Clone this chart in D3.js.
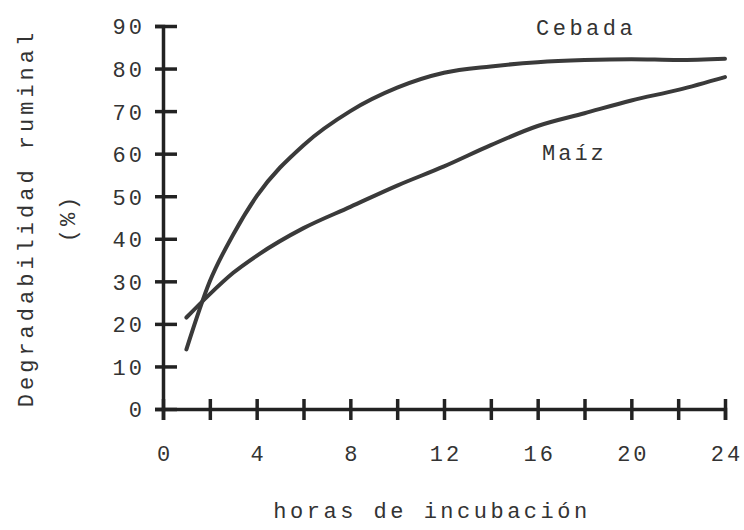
<!DOCTYPE html>
<html>
<head>
<meta charset="utf-8">
<script src="https://cdn.jsdelivr.net/npm/d3@7"></script>
<style>
  body { margin: 0; background: #fff; }
  text { font-family: "Liberation Mono", "DejaVu Sans Mono", monospace; fill: #333; }
</style>
</head>
<body>
<div id="chart"></div>
<script>
// data
const hours = [1, 2, 3, 4, 6, 8, 10, 12, 14, 16, 18, 20, 22, 24];
const cebada = [14, 30, 41, 50, 62, 70, 75.5, 79, 80.5, 81.5, 82, 82.2, 82, 82.3];
const maiz = [21.5, 27, 32, 36, 42.5, 47.5, 52.5, 57, 62, 66.5, 69.5, 72.5, 75, 78];
const xTicks = [0, 2, 4, 6, 8, 10, 12, 14, 16, 18, 20, 22, 24];
const yTicks = [0, 10, 20, 30, 40, 50, 60, 70, 80, 90];

const width = 744, height = 530;

const svg = d3.select("#chart").append("svg")
  .attr("width", width)
  .attr("height", height);

const x = d3.scaleLinear().domain([0, 24]).range([163, 725]);
const y = d3.scaleLinear().domain([0, 90]).range([409, 26]);

// y axis
const gy = svg.append("g")
  .attr("transform", `translate(${x(0)},0)`)
  .call(d3.axisLeft(y).tickValues(yTicks).tickSizeOuter(0).tickSize(8).tickPadding(12));
gy.selectAll(".tick line").attr("x1", 14);
gy.selectAll(".tick text")
  .style("font-size", "22px").style("letter-spacing", "3px")
  .attr("dy", "0.36em").attr("x", -18);

// x axis
const gx = svg.append("g")
  .attr("transform", `translate(0,${y(0)})`)
  .call(d3.axisBottom(x).tickValues(xTicks).tickSizeOuter(0).tickSize(11)
    .tickFormat(d => d % 4 === 0 ? d : ""));
gx.selectAll(".tick line").attr("y1", -10);
gx.selectAll(".tick text")
  .style("font-size", "22px").style("letter-spacing", "3px")
  .attr("y", 52).attr("dy", 0).attr("dx", "1.5px");

svg.selectAll(".domain, .tick line")
  .attr("stroke", "#222").attr("stroke-width", 3.5);

// curves
const line = d3.line()
  .x((d, i) => x(hours[i]))
  .y(d => y(d))
  .curve(d3.curveMonotoneX);

[cebada, maiz].forEach(s => {
  svg.append("path")
    .datum(s)
    .attr("d", line)
    .attr("fill", "none")
    .attr("stroke", "#3a3a3a")
    .attr("stroke-width", 4)
    .attr("stroke-linecap", "round");
});

// series labels
svg.append("text").attr("x", 536).attr("y", 35)
  .style("font-size", "22px").style("letter-spacing", "3.5px").text("Cebada");
svg.append("text").attr("x", 542).attr("y", 160)
  .style("font-size", "22px").style("letter-spacing", "3px").text("Maíz");

// axis titles
svg.append("text")
  .attr("transform", "translate(432,518)")
  .attr("text-anchor", "middle")
  .style("font-size", "22px").style("letter-spacing", "3.5px")
  .text("horas de incubación");

svg.append("text")
  .attr("transform", "translate(33,218) rotate(-90)")
  .attr("text-anchor", "middle")
  .style("font-size", "22px").style("letter-spacing", "4px")
  .text("Degradabilidad ruminal");

svg.append("text")
  .attr("transform", "translate(75,218) rotate(-90)")
  .attr("text-anchor", "middle")
  .style("font-size", "22px").style("letter-spacing", "3px")
  .text("(%)");
</script>
</body>
</html>
